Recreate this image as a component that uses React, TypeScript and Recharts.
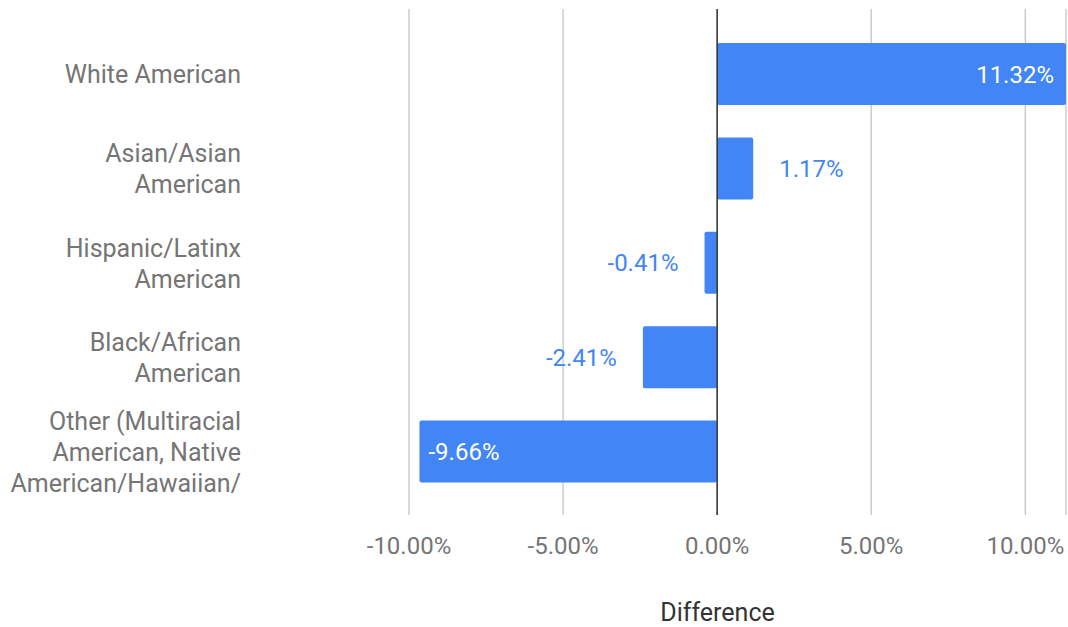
import { BarChart, Bar, XAxis, YAxis, CartesianGrid, ReferenceLine, LabelList } from 'recharts';

const categories = ['White American', 'Asian/Asian American', 'Hispanic/Latinx American', 'Black/African American', 'Other'];
const tickLines = [
  ['White American'],
  ['Asian/Asian', 'American'],
  ['Hispanic/Latinx', 'American'],
  ['Black/African', 'American'],
  ['Other (Multiracial', 'American, Native', 'American/Hawaiian/'],
];
const differences = [11.32, 1.17, -0.41, -2.41, -9.66];
const xTicks = [-10, -5, 0, 5, 10];

const data = categories.map((name, i) => ({ name, value: differences[i] }));

const BLUE = '#4285f4';
const GREY = '#757575';
const FONT = 'Roboto, sans-serif';

const fmt = (v: number) => `${v.toFixed(2)}%`;

const CategoryTick = ({ x, y, payload, index }: any) => {
  const lines = tickLines[index] || [payload.value];
  const lh = 31;
  const start = -((lines.length - 1) * lh) / 2;
  return (
    <text x={x} y={y} textAnchor="end" fill={GREY} fontSize={25} fontFamily={FONT}>
      {lines.map((l: string, i: number) => (
        <tspan key={i} x={x} y={y + start + i * lh} dy="0.36em">{l}</tspan>
      ))}
    </text>
  );
};

// inside label for long bars, outside for short ones
const ValueLabel = ({ x, y, width, height, value }: any) => {
  const left = Math.min(x, x + width);
  const right = Math.max(x, x + width);
  const cy = y + height / 2;
  const inside = Math.abs(width) > 100;
  let tx: number;
  let anchor: 'start' | 'end';
  if (value >= 0) {
    tx = inside ? right - 12 : right + 26;
    anchor = inside ? 'end' : 'start';
  } else {
    tx = inside ? left + 9 : left - 26;
    anchor = inside ? 'start' : 'end';
  }
  return (
    <text x={tx} y={cy} dy="0.36em" textAnchor={anchor} fill={inside ? '#ffffff' : BLUE} fontSize={24} fontFamily={FONT}>
      {fmt(value)}
    </text>
  );
};

export default function App() {
  return (
    <div style={{ position: 'absolute', left: 0, top: 0, background: '#fff' }}>
      <BarChart
        width={1068}
        height={627}
        data={data}
        layout="vertical"
        margin={{ top: 9, right: 2, left: 0, bottom: 0 }}
        barSize={62}
      >
        <CartesianGrid horizontal={false} stroke="#cccccc" strokeWidth={1.5} />
        <XAxis
          type="number"
          domain={[-10, 11.32]}
          ticks={xTicks}
          tickFormatter={fmt}
          axisLine={false}
          tickLine={false}
          tickSize={0}
          tickMargin={22}
          height={112}
          tick={{ fill: GREY, fontSize: 24, fontFamily: FONT }}
          label={{ value: 'Difference', position: 'insideBottom', offset: 6, dx: -20, fill: '#333333', fontSize: 25, fontFamily: FONT }}
        />
        <YAxis
          type="category"
          dataKey="name"
          width={409}
          axisLine={false}
          tickLine={false}
          tickSize={0}
          tickMargin={168}
          padding={{ top: 18, bottom: 16 }}
          tick={<CategoryTick />}
        />
        <ReferenceLine x={0} stroke="#333333" strokeWidth={1.5} />
        <Bar dataKey="value" fill={BLUE} radius={2} isAnimationActive={false}>
          <LabelList dataKey="value" content={<ValueLabel />} />
        </Bar>
      </BarChart>
    </div>
  );
}
